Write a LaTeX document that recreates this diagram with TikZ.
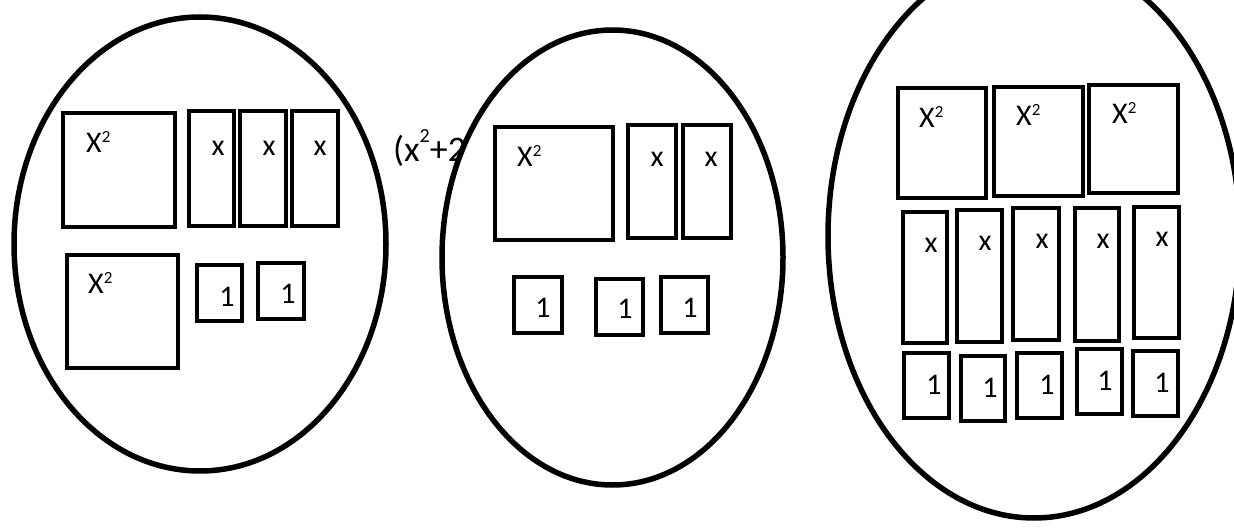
\documentclass[tikz,border=0pt]{standalone}
\usepackage{fontspec}
\setmainfont{Carlito}
\usetikzlibrary{shapes.geometric}
\newcommand{\sq}{\raisebox{10pt}{\fontsize{17}{17}\selectfont 2}}
\newcommand{\bsq}{\raisebox{19pt}{\fontsize{20}{20}\selectfont 2}}
\tikzset{
  oval/.style={ellipse, draw=black, line width=5.5pt, fill=white, inner sep=0pt},
  tile/.style={rectangle, draw=black, line width=4.5pt, inner sep=0pt},
  lab/.style={inner sep=0pt, font=\fontsize{30}{34}\selectfont},
  biglab/.style={inner sep=0pt, font=\fontsize{36}{40}\selectfont},
}
\begin{document}
\begin{tikzpicture}[x=1pt,y=-1pt]
\useasboundingbox (0,0) rectangle (1234,529);
% ellipse 1
\node[oval, minimum width=372pt, minimum height=454pt] (e1) at (200,244) {};
% partly hidden expression
\node[biglab, anchor=base west] (expr) at (393,162) {(x\bsq+2};
% ellipse 2
\node[oval, minimum width=341pt, minimum height=455pt] (e2) at (612.5,257.5) {};
% ellipse 3
\node[oval, minimum width=412pt, minimum height=564pt] (e3) at (1034,236) {};

% ---- ellipse 1 tiles
\node[tile, minimum width=112pt, minimum height=114pt] (a11) at (119,170) {};
\node[tile, minimum width=45pt, minimum height=115pt] (b11) at (211.5,168.5) {};
\node[tile, minimum width=46pt, minimum height=115pt] (b12) at (263,168.5) {};
\node[tile, minimum width=46pt, minimum height=115pt] (b13) at (315,168.5) {};
\node[tile, minimum width=111pt, minimum height=113pt] (a12) at (122.5,311.5) {};
\node[tile, minimum width=45pt, minimum height=56pt] (c11) at (219.5,293) {};
\node[tile, minimum width=46pt, minimum height=56pt] (c12) at (281,291) {};
\node[lab, anchor=base west] (la11) at (86,153) {X\sq};
\node[lab, anchor=base west] (la12) at (88,294) {X\sq};
\node[lab, anchor=base] (lb11) at (218,156) {x};
\node[lab, anchor=base] (lb12) at (269,156) {x};
\node[lab, anchor=base] (lb13) at (320,156) {x};
\node[lab, anchor=base] (lc11) at (227,306) {1};
\node[lab, anchor=base] (lc12) at (288,304) {1};

% ---- ellipse 2 tiles
\node[tile, minimum width=118pt, minimum height=113pt] (a21) at (554,183.5) {};
\node[tile, minimum width=48pt, minimum height=113pt] (b21) at (652,181.5) {};
\node[tile, minimum width=48pt, minimum height=113pt] (b22) at (707,181.5) {};
\node[tile, minimum width=48pt, minimum height=56pt] (c21) at (538,305) {};
\node[tile, minimum width=47pt, minimum height=56pt] (c22) at (619.5,307) {};
\node[tile, minimum width=47pt, minimum height=56pt] (c23) at (684.5,305) {};
\node[lab, anchor=base west] (la21) at (517,167) {X\sq};
\node[lab, anchor=base] (lb21) at (657,167) {x};
\node[lab, anchor=base] (lb22) at (711,167) {x};
\node[lab, anchor=base] (lc21) at (543,318) {1};
\node[lab, anchor=base] (lc22) at (625,319) {1};
\node[lab, anchor=base] (lc23) at (690,317) {1};

% ---- ellipse 3 tiles
\node[tile, minimum width=88pt, minimum height=110pt] (a31) at (942,143) {};
\node[tile, minimum width=89pt, minimum height=109pt] (a32) at (1038.5,141.5) {};
\node[tile, minimum width=89pt, minimum height=108pt] (a33) at (1133.5,139) {};
\node[tile, minimum width=44pt, minimum height=131pt] (b31) at (925,277.5) {};
\node[tile, minimum width=45pt, minimum height=132pt] (b32) at (979.5,276) {};
\node[tile, minimum width=46pt, minimum height=132pt] (b33) at (1036,274) {};
\node[tile, minimum width=44pt, minimum height=133pt] (b34) at (1097,274.5) {};
\node[tile, minimum width=45pt, minimum height=131pt] (b35) at (1156.5,272.5) {};
\node[tile, minimum width=45pt, minimum height=65pt] (c31) at (926.5,385.5) {};
\node[tile, minimum width=44pt, minimum height=65pt] (c32) at (983,388.5) {};
\node[tile, minimum width=45pt, minimum height=65pt] (c33) at (1039.5,385.5) {};
\node[tile, minimum width=45pt, minimum height=65pt] (c34) at (1099.5,381.5) {};
\node[tile, minimum width=45pt, minimum height=65pt] (c35) at (1155.5,383.5) {};
\node[lab, anchor=base west] (la31) at (919,128) {X\sq};
\node[lab, anchor=base west] (la32) at (1016,126) {X\sq};
\node[lab, anchor=base west] (la33) at (1112,124) {X\sq};
\node[lab, anchor=base] (lb31) at (931,253) {x};
\node[lab, anchor=base] (lb32) at (985,251) {x};
\node[lab, anchor=base] (lb33) at (1042,249) {x};
\node[lab, anchor=base] (lb34) at (1103,249) {x};
\node[lab, anchor=base] (lb35) at (1162,247) {x};
\node[lab, anchor=base] (lc31) at (934,394) {1};
\node[lab, anchor=base] (lc32) at (990,397) {1};
\node[lab, anchor=base] (lc33) at (1047,394) {1};
\node[lab, anchor=base] (lc34) at (1105,390) {1};
\node[lab, anchor=base] (lc35) at (1162,392) {1};
\end{tikzpicture}
\end{document}
